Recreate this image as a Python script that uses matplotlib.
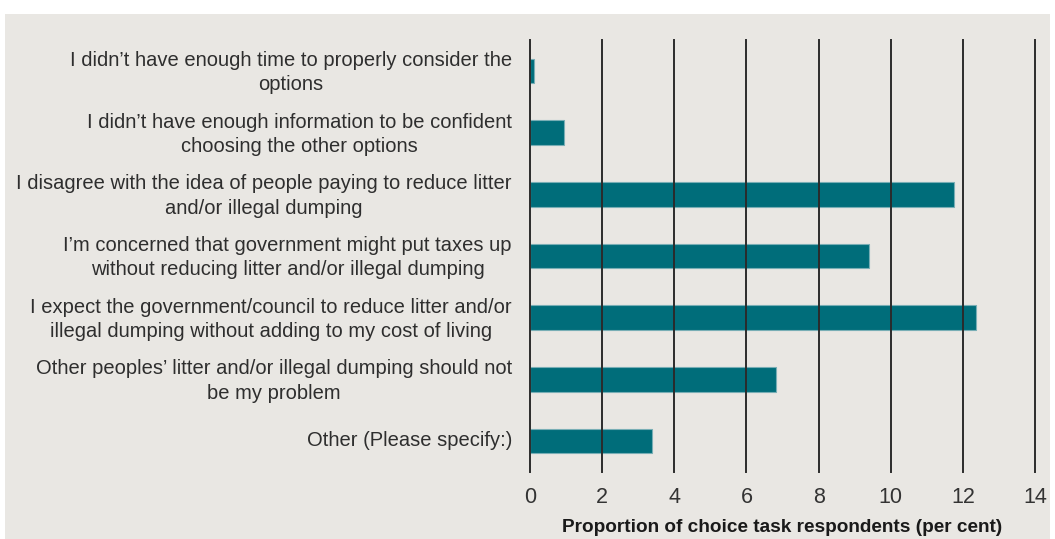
import matplotlib.pyplot as plt
from matplotlib.patches import Rectangle
from matplotlib.transforms import ScaledTranslation

# reasons (top to bottom) and share of respondents (per cent)
reasons = [
    "I didn\u2019t have enough time to properly consider the\noptions",
    "I didn\u2019t have enough information to be confident\nchoosing the other options",
    "I disagree with the idea of people paying to reduce litter\nand/or illegal dumping",
    "I\u2019m concerned that government might put taxes up\nwithout reducing litter and/or illegal dumping",
    "I expect the government/council to reduce litter and/or\nillegal dumping without adding to my cost of living",
    "Other peoples\u2019 litter and/or illegal dumping should not\nbe my problem",
    "Other (Please specify:)",
]
shares = [0.11, 0.94, 11.75, 9.39, 12.36, 6.83, 3.39]
xticks = [0, 2, 4, 6, 8, 10, 12, 14]

plt.rcParams['font.family'] = ['Liberation Sans', 'DejaVu Sans']

fig = plt.figure(figsize=(10.55, 5.39), dpi=100)
fig.patch.set_facecolor('white')

# grey panel behind the chart
bg = fig.add_axes([0, 0, 1, 1], zorder=-1)
bg.set_axis_off()
bg.set_xlim(0, 1)
bg.set_ylim(0, 1)
bg.add_patch(Rectangle((5 / 1055, 0), 1045 / 1055, 1 - 14 / 539,
                       facecolor='#e9e7e3', edgecolor='none'))

ax = fig.add_axes([530 / 1055, 1 - 472 / 539, 505 / 1055, 432 / 539], zorder=1)
ax.set_facecolor('none')

pos = list(range(len(reasons)))
ax.barh(pos, shares, height=0.4, color='#006d7a', edgecolor='#78aeb5',
        linewidth=0.8, zorder=2)

ax.set_xlim(0, 14)
ax.set_ylim(len(reasons) - 0.5, -0.5)
ax.set_xticks(xticks)
ax.set_xticklabels([str(t) for t in xticks], fontsize=15.5, color='#333333')
ax.set_yticks(pos)
ax.set_yticklabels(reasons, fontsize=14.5, color='#2e2e2e', linespacing=1.35,
                   multialignment='center')
ax.tick_params(axis='x', length=0, pad=10.5)
ax.tick_params(axis='y', length=0, pad=13)

# nudge the category labels up a little
shift = ScaledTranslation(0, 3 / 100, fig.dpi_scale_trans)
for lab in ax.get_yticklabels():
    lab.set_transform(lab.get_transform() + shift)

for t in xticks:
    ax.axvline(t, color='#2b2b2b', linewidth=1.4, zorder=3, clip_on=False)

for s in ax.spines.values():
    s.set_visible(False)

ax.set_xlabel('Proportion of choice task respondents (per cent)',
              fontsize=13.7, fontweight='bold', color='#1a1a1a', labelpad=8)

fig.savefig('out.png', dpi=100, facecolor=fig.get_facecolor())
